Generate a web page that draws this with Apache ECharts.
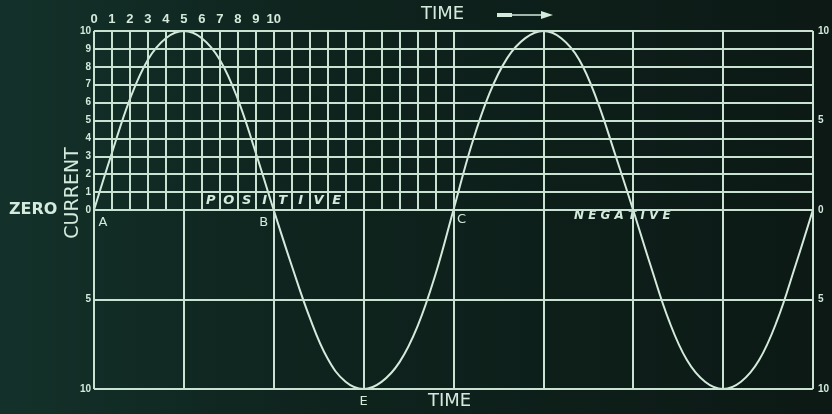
<!DOCTYPE html>
<html>
<head>
<meta charset="utf-8">
<title>Alternating current</title>
<script src="https://cdn.jsdelivr.net/npm/echarts@6/dist/echarts.min.js"></script>
<style>
    html, body { margin: 0; padding: 0; background: #0e211b; }
    #chart { width: 832px; height: 414px; }
</style>
</head>
<body>
<div id="chart"></div>
<script>
// time steps (one unit = 1/20 of a cycle)
var arrTime = [0, 1, 2, 3, 4, 5, 6, 7, 8, 9, 10, 11, 12, 13, 14, 15, 16, 17, 18, 19, 20,
    21, 22, 23, 24, 25, 26, 27, 28, 29, 30, 31, 32, 33, 34, 35, 36, 37, 38, 39, 40];
// current
var arrCurrent = [0, 3.2, 6.2, 8.4, 9.6, 10, 9.6, 8.4, 6.2, 3.2, 0,
    -3.1, -6.0, -8.3, -9.6, -10, -9.6, -8.5, -6.5, -3.6, 0,
    3.6, 6.5, 8.5, 9.6, 10, 9.6, 8.4, 6.1, 3.1, 0,
    -3.2, -6.2, -8.4, -9.6, -10, -9.6, -8.4, -6.2, -3.2, 0];
// top scale numbers
var arrTopTicks = [0, 1, 2, 3, 4, 5, 6, 7, 8, 9, 10];
// ruled lines of the board
var arrFineCols = [0, 1, 2, 3, 4, 5, 6, 7, 8, 9, 10, 11, 12, 13, 14, 15, 16, 17, 18, 19, 20, 25, 30, 35, 40];
var arrCoarseCols = [0, 5, 10, 15, 20, 25, 30, 35, 40];
var arrRows = [10, 9, 8, 7, 6, 5, 4, 3, 2, 1, 0, -5, -10];
// point letters
var arrPoints = [
    { name: 'A', x: 0, y: 0 },
    { name: 'B', x: 10, y: 0 },
    { name: 'C', x: 20, y: 0 },
    { name: 'E', x: 15, y: -10 }
];
var strPositive = 'POSITIVE';

var CHALK = '#d3eadc';
var chart = echarts.init(document.getElementById('chart'));

//#region ruled lines

var arrLines = [];
arrRows.forEach(function (y) {
    arrLines.push([{ coord: [0, y] }, { coord: [40, y] }]);
});
arrFineCols.forEach(function (x) {
    arrLines.push([{ coord: [x, 0] }, { coord: [x, 10] }]);
});
arrCoarseCols.forEach(function (x) {
    arrLines.push([{ coord: [x, -10] }, { coord: [x, 0] }]);
});

//#endregion

//#region letters

var arrMarks = [];
arrPoints.forEach(function (p) {
    var off = p.name === 'E' ? [0, 13] : (p.name === 'A' ? [9, 13] : (p.name === 'B' ? [-10, 13] : [8, 10]));
    arrMarks.push({
        coord: [p.x, p.y],
        label: { formatter: p.name, offset: off, fontSize: 13, fontStyle: 'normal' }
    });
});
strPositive.split('').forEach(function (ch, i) {
    arrMarks.push({
        coord: [6.5 + i, 0.5],
        label: { formatter: ch, offset: [0, 0], fontSize: 13, fontStyle: 'italic', fontWeight: 'bold' }
    });
});

//#endregion

var option = {
    backgroundColor: {
        type: 'linear', x: 0, y: 0, x2: 1, y2: 0,
        colorStops: [
            { offset: 0, color: '#13312a' },
            { offset: 0.35, color: '#0f241e' },
            { offset: 1, color: '#0c1915' }
        ]
    },
    animation: false,
    grid: { left: 94, right: 18, top: 31, bottom: 25 },
    xAxis: [{
        type: 'value',
        position: 'top',
        min: 0,
        max: 40,
        interval: 1,
        axisLine: { show: false },
        axisTick: { show: false },
        splitLine: { show: false },
        axisLabel: {
            color: CHALK,
            fontSize: 13,
            fontWeight: 'bold',
            margin: 5,
            formatter: function (v) {
                return arrTopTicks.indexOf(v) >= 0 ? String(v) : '';
            }
        }
    }],
    yAxis: [{
        type: 'value',
        min: -10,
        max: 10,
        interval: 1,
        axisLine: { show: false },
        axisTick: { show: false },
        splitLine: { show: false },
        axisLabel: {
            color: CHALK,
            fontSize: 10,
            fontWeight: 'bold',
            margin: 3,
            formatter: function (v) {
                if (v >= 0) return String(v);
                return (v === -5 || v === -10) ? String(-v) : '';
            }
        }
    }, {
        type: 'value',
        position: 'right',
        min: -10,
        max: 10,
        interval: 5,
        axisLine: { show: false },
        axisTick: { show: false },
        splitLine: { show: false },
        axisLabel: {
            color: CHALK,
            fontSize: 10,
            fontWeight: 'bold',
            margin: 5,
            formatter: function (v) { return String(Math.abs(v)); }
        }
    }],
    graphic: [
        { type: 'text', left: 9, top: 202, style: { text: 'ZERO', fill: CHALK, font: 'bold 16px "DejaVu Sans"' } },
        {
            type: 'text', x: 73, y: 193, rotation: Math.PI / 2,
            style: { text: 'CURRENT', fill: CHALK, font: '19px "DejaVu Sans"', align: 'center', verticalAlign: 'middle' }
        },
        { type: 'text', left: 421, top: 5, style: { text: 'TIME', fill: CHALK, font: '18px "DejaVu Sans"' } },
        { type: 'rect', shape: { x: 497, y: 13, width: 15, height: 4 }, style: { fill: CHALK } },
        { type: 'line', shape: { x1: 510, y1: 15, x2: 546, y2: 15 }, style: { stroke: CHALK, lineWidth: 1.5 } },
        { type: 'polygon', shape: { points: [[541, 11], [553, 15], [541, 19]] }, style: { fill: CHALK } },
        { type: 'text', left: 428, top: 392, style: { text: 'TIME', fill: CHALK, font: '18px "DejaVu Sans"' } },
        { type: 'text', left: 574, top: 210, style: { text: 'N E G A T I V E', fill: CHALK, font: 'italic bold 12px "DejaVu Sans"' } }
    ],
    series: [{
        name: 'current',
        type: 'line',
        data: arrTime.map(function (t, i) { return [t, arrCurrent[i]]; }),
        smooth: 0.4,
        symbol: 'none',
        lineStyle: { color: CHALK, width: 2 },
        z: 3,
        markLine: {
            silent: true,
            symbol: 'none',
            label: { show: false },
            lineStyle: { color: '#c9e2d2', width: 2, type: 'solid' },
            data: arrLines
        },
        markPoint: {
            silent: true,
            symbol: 'rect',
            symbolSize: 0,
            label: { show: true, color: CHALK, fontFamily: 'DejaVu Sans' },
            data: arrMarks
        }
    }]
};

chart.setOption(option);
</script>
</body>
</html>
